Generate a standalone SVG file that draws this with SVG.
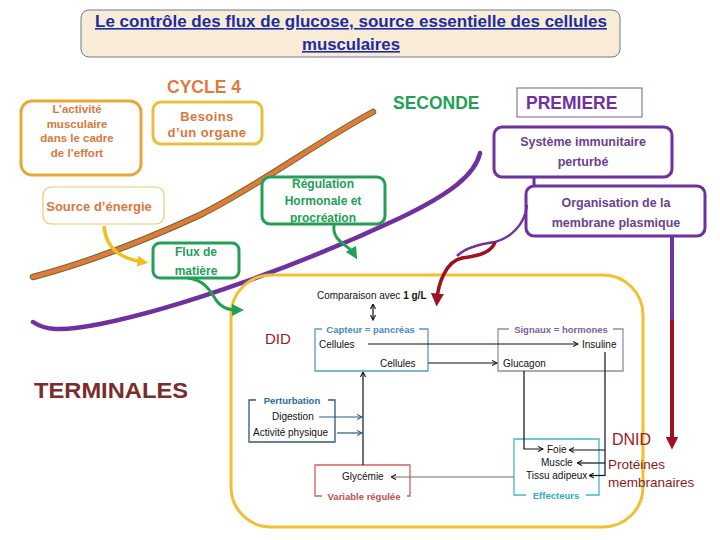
<svg xmlns="http://www.w3.org/2000/svg" width="720" height="540" viewBox="0 0 720 540">
<style>
text{font-family:"Liberation Sans",Arial,sans-serif}
.ab{font-weight:bold;fill:#d9783c}
.gb{fill:#fff;stroke:#22a055;stroke-width:3}
.gt{font-weight:bold;fill:#22a055;font-size:12px;text-anchor:middle}
.pb{fill:#fff;stroke:#7030a0;stroke-width:3}
.pt{font-weight:bold;fill:#6b3f8f;font-size:12.5px;text-anchor:middle}
.in{font-size:10px;fill:#111}
.lg{font-size:9.5px;font-weight:bold;text-anchor:middle}
.ln{fill:none;stroke:#111;stroke-width:1.2}
</style>
<defs>
<marker id="aY" viewBox="0 0 10 10" refX="5" refY="5" markerWidth="11" markerHeight="11" markerUnits="userSpaceOnUse" orient="auto"><path d="M0,0 L10,5 L0,10 z" fill="#f0c020"/></marker>
<marker id="aG" viewBox="0 0 10 10" refX="5" refY="5" markerWidth="12" markerHeight="12" markerUnits="userSpaceOnUse" orient="auto"><path d="M0,0 L10,5 L0,10 z" fill="#22a055"/></marker>
<marker id="aR" viewBox="0 0 10 10" refX="5" refY="5" markerWidth="13" markerHeight="13" markerUnits="userSpaceOnUse" orient="auto"><path d="M0,0 L10,5 L0,10 z" fill="#a01020"/></marker>
<marker id="cK" viewBox="0 0 6 6" refX="5.5" refY="3" markerWidth="6" markerHeight="6" markerUnits="userSpaceOnUse" orient="auto-start-reverse"><path d="M0.5,0.5 L5.5,3 L0.5,5.5" fill="none" stroke="#111" stroke-width="1.1"/></marker>
<marker id="cB" viewBox="0 0 6 6" refX="5.5" refY="3" markerWidth="6" markerHeight="6" markerUnits="userSpaceOnUse" orient="auto"><path d="M0.5,0.5 L5.5,3 L0.5,5.5" fill="none" stroke="#2a5a80" stroke-width="1.1"/></marker>
<marker id="cG" viewBox="0 0 6 6" refX="5.5" refY="3" markerWidth="6" markerHeight="6" markerUnits="userSpaceOnUse" orient="auto"><path d="M0.5,0.5 L5.5,3 L0.5,5.5" fill="none" stroke="#111" stroke-width="1.1"/></marker>
</defs>
<rect width="720" height="540" fill="#fff"/>

<g id="title">
<rect x="81" y="10" width="539" height="47" rx="8" fill="#f8ecd6" stroke="#6a7a9a" stroke-width="1"/>
<text x="95" y="27" font-size="16" font-weight="bold" fill="#1c2ca0" text-decoration="underline" textLength="512" lengthAdjust="spacingAndGlyphs">Le contrôle des flux de glucose, source essentielle des cellules</text>
<text x="302" y="50" font-size="16" font-weight="bold" fill="#1c2ca0" text-decoration="underline" textLength="98" lengthAdjust="spacingAndGlyphs">musculaires</text>
</g>

<g id="curves">
<path d="M33,277 C90,262 150,238 200,215 C260,185 320,140 373,112" fill="none" stroke="#6a6a30" stroke-width="6.5" stroke-linecap="round"/>
<path d="M33,277 C90,262 150,238 200,215 C260,185 320,140 373,112" fill="none" stroke="#e07a3a" stroke-width="4.5" stroke-linecap="round"/>
<path d="M33,322 C45,330 60,332 100,324 C180,308 300,265 400,218 C450,194 475,175 480,153" fill="none" stroke="#7030a0" stroke-width="4.5" stroke-linecap="round"/>
<rect x="231" y="275" width="412" height="252" rx="40" fill="none" stroke="#f0c030" stroke-width="3"/>
</g>

<g id="levels">
<text x="167" y="93" font-size="17.5" font-weight="bold" fill="#e07a3a">CYCLE 4</text>
<text x="393" y="109" font-size="17.5" font-weight="bold" fill="#22a055">SECONDE</text>
<text x="34" y="398" font-size="22.5" font-weight="bold" fill="#7b2c2c" textLength="154" lengthAdjust="spacingAndGlyphs">TERMINALES</text>
<text x="265" y="344" font-size="15" fill="#a01820">DID</text>
<text x="612" y="445" font-size="16" fill="#a01820">DNID</text>
<text x="608" y="469" font-size="13.5" fill="#8a1a1a">Protéines</text>
<text x="608" y="487" font-size="13.5" fill="#8a1a1a">membranaires</text>
</g>

<g id="activite">
<rect x="21" y="101" width="120" height="74" rx="11" fill="#fff" stroke="#e8a838" stroke-width="3"/>
<text class="ab" font-size="11.5" text-anchor="middle"><tspan x="77" y="113">L’activité</tspan><tspan x="77" y="128">musculaire</tspan><tspan x="77" y="142">dans le cadre</tspan><tspan x="77" y="157">de l’effort</tspan></text>
</g>
<g id="besoins">
<rect x="153" y="102" width="109" height="42" rx="8" fill="#fff" stroke="#e8c040" stroke-width="3"/>
<text class="ab" font-size="13" text-anchor="middle" letter-spacing="0.4"><tspan x="207" y="121">Besoins</tspan><tspan x="207" y="137">d’un organe</tspan></text>
</g>
<g id="source">
<rect x="43" y="187" width="121" height="37" rx="8" fill="#fff" stroke="#e8c878" stroke-width="1.2"/>
<text class="ab" font-size="13" text-anchor="middle" x="99" y="211">Source d’énergie</text>
</g>
<g id="regulation">
<rect class="gb" x="262" y="177" width="123" height="47" rx="8"/>
<text class="gt"><tspan x="323" y="188">Régulation</tspan><tspan x="323" y="205">Hormonale et</tspan><tspan x="323" y="222">procréation</tspan></text>
</g>
<g id="flux">
<rect class="gb" x="153" y="243" width="86" height="35" rx="7"/>
<text class="gt"><tspan x="196" y="256">Flux de</tspan><tspan x="196" y="275">matière</tspan></text>
</g>
<g id="premiere">
<rect x="517" y="88" width="125" height="29" fill="#fff" stroke="#7a5a8a" stroke-width="1"/>
<text x="526" y="109" font-size="17.5" font-weight="bold" fill="#7030a0">PREMIERE</text>
</g>
<g id="systeme">
<rect class="pb" x="494" y="127" width="178" height="50" rx="8"/>
<text class="pt"><tspan x="583" y="146">Système immunitaire</tspan><tspan x="583" y="166">perturbé</tspan></text>
</g>
<g id="organisation">
<rect class="pb" x="526" y="186" width="179" height="50" rx="8"/>
<text class="pt"><tspan x="616" y="207">Organisation de la</tspan><tspan x="616" y="227">membrane plasmique</tspan></text>
</g>

<g id="connectors">
<path d="M104,226 C106,250 122,259 143,262" fill="none" stroke="#f0c020" stroke-width="3.5" marker-end="url(#aY)"/>
<path d="M334,225 C332,242 348,244 354,254" fill="none" stroke="#22a055" stroke-width="3" marker-end="url(#aG)"/>
<path d="M188,278 C205,280 211,292 216,300 C222,308 228,310 238,310" fill="none" stroke="#22a055" stroke-width="3" marker-end="url(#aG)"/>
<line x1="534" y1="177" x2="534" y2="186" stroke="#7030a0" stroke-width="3"/>
<path d="M527,205 C525,225 510,238 495,242 C480,244 465,248 457,256" fill="none" stroke="#7030a0" stroke-width="2.5"/>
<path d="M495,242 C492,252 480,256 462,258 C446,261 438,284 437,300" fill="none" stroke="#a01020" stroke-width="3.5" marker-end="url(#aR)"/>
<line x1="672" y1="236" x2="672" y2="322" stroke="#7030a0" stroke-width="4"/>
<line x1="672" y1="320" x2="672" y2="443" stroke="#a01020" stroke-width="4" marker-end="url(#aR)"/>
</g>

<g id="schema">
<text class="in" x="317" y="299">Comparaison avec <tspan font-weight="bold">1 g/L</tspan></text>
<line class="ln" x1="373" y1="304" x2="373" y2="320" marker-start="url(#cK)" marker-end="url(#cK)"/>
<g id="capteur">
<path d="M322,329 H315 V371 H428 V329 H419" fill="none" stroke="#5a9ac0" stroke-width="1.3"/>
<text class="lg" x="370.5" y="333" fill="#4a8ac0">Capteur = pancréas</text>
<text class="in" x="319" y="348">Cellules</text>
<text class="in" x="380" y="367">Cellules</text>
</g>
<g id="signaux">
<path d="M509,329 H498 V371 H623 V329 H613" fill="none" stroke="#9a8aaa" stroke-width="1.3"/>
<text class="lg" x="561" y="333" fill="#8060a0">Signaux = hormones</text>
<text class="in" x="582" y="348">Insuline</text>
<text class="in" x="503" y="367">Glucagon</text>
</g>
<g id="perturbation">
<path d="M256,400 H249 V442 H335 V400 H328" fill="none" stroke="#2a5a80" stroke-width="1.3"/>
<text class="lg" x="292" y="403.5" fill="#2a6a9a" font-size="10">Perturbation</text>
<text class="in" x="272" y="420">Digestion</text>
<text class="in" x="253" y="436">Activité physique</text>
</g>
<g id="effecteurs">
<path d="M526,495 H514 V439 H599 V495 H586" fill="none" stroke="#40b8c8" stroke-width="1.3"/>
<text class="lg" x="556" y="498.5" fill="#30a8c0">Effecteurs</text>
<text class="in" x="547" y="453">Foie</text>
<text class="in" x="541" y="466">Muscle</text>
<text class="in" x="526" y="479">Tissu adipeux</text>
</g>
<g id="glycemie">
<path d="M322,496 H315 V465 H410 V496 H407" fill="none" stroke="#d06060" stroke-width="1.3"/>
<text class="in" x="342" y="480">Glycémie</text>
<text class="lg" x="364" y="499.5" fill="#c05050" font-size="10">Variable régulée</text>
</g>
<g id="schema-links">
<line class="ln" x1="368" y1="344" x2="578" y2="344" marker-end="url(#cG)"/>
<line class="ln" x1="428" y1="363" x2="497" y2="363" marker-end="url(#cG)"/>
<path class="ln" d="M524,371 V449 H543" marker-end="url(#cG)"/>
<path class="ln" d="M605,352 V476"/>
<line class="ln" x1="605" y1="450" x2="569" y2="450" marker-end="url(#cG)"/>
<line class="ln" x1="605" y1="463" x2="577" y2="463" marker-end="url(#cG)"/>
<line class="ln" x1="605" y1="475.5" x2="589" y2="475.5" marker-end="url(#cG)"/>
<line x1="514" y1="477" x2="391" y2="477" stroke="#707070" stroke-width="1.2" marker-end="url(#cG)"/>
<line class="ln" x1="363" y1="465" x2="363" y2="372" marker-end="url(#cG)"/>
<line x1="319" y1="417" x2="362" y2="417" stroke="#2a5a80" stroke-width="1.2" marker-end="url(#cB)"/>
<line x1="337" y1="433" x2="362" y2="433" stroke="#2a5a80" stroke-width="1.2" marker-end="url(#cB)"/>
</g>
</g>
</svg>
